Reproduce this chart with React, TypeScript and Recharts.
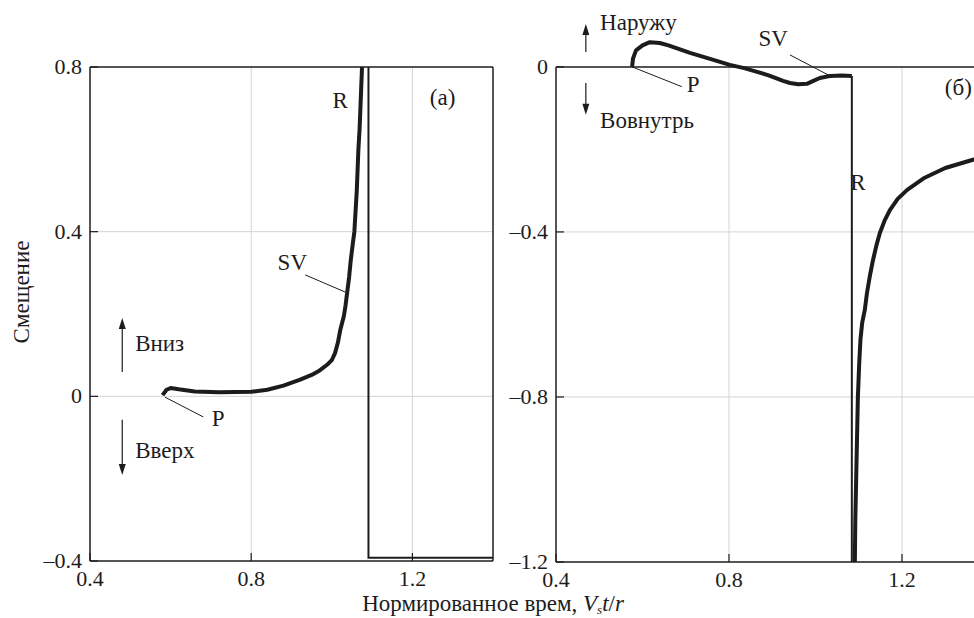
import React from 'react';
import {
  LineChart,
  Line,
  XAxis,
  YAxis,
  CartesianGrid,
  ReferenceLine,
  ReferenceDot
} from 'recharts';

// Левая панель (а): кривая SV / R и тонкая ступенька
const leftSvX = [0.58, 0.59, 0.6, 0.62, 0.66, 0.72, 0.8, 0.84, 0.88, 0.92, 0.95, 0.97, 0.99, 1.0, 1.008, 1.015, 1.021, 1.026, 1.03, 1.034, 1.038, 1.043, 1.047, 1.052, 1.056, 1.059, 1.062, 1.064, 1.066, 1.069, 1.071, 1.073, 1.075];
const leftSvY = [0.003, 0.016, 0.02, 0.017, 0.012, 0.01, 0.011, 0.016, 0.026, 0.04, 0.052, 0.063, 0.078, 0.088, 0.105, 0.13, 0.161, 0.18, 0.195, 0.22, 0.251, 0.29, 0.33, 0.37, 0.4, 0.45, 0.5, 0.55, 0.6, 0.65, 0.7, 0.75, 0.8];
const leftStepX = [1.091, 1.091, 1.4];
const leftStepY = [0.8, -0.392, -0.392];

// Правая панель (б)
const rightSvX = [0.576, 0.578, 0.585, 0.6, 0.617, 0.64, 0.66, 0.71, 0.76, 0.802, 0.835, 0.865, 0.89, 0.91, 0.925, 0.941, 0.96, 0.98, 0.995, 1.01, 1.033, 1.06, 1.084];
const rightSvY = [0, 0.02, 0.04, 0.052, 0.06, 0.058, 0.052, 0.034, 0.018, 0.005, -0.003, -0.012, -0.02, -0.028, -0.034, -0.039, -0.042, -0.041, -0.034, -0.027, -0.022, -0.021, -0.022];
const rightStepX = [1.084, 1.084];
const rightStepY = [-0.022, -1.2];
const rightRX = [1.091, 1.092, 1.094, 1.096, 1.098, 1.101, 1.104, 1.108, 1.114, 1.119, 1.126, 1.133, 1.141, 1.149, 1.16, 1.172, 1.19, 1.212, 1.25, 1.3, 1.364, 1.4];
const rightRY = [-1.2, -1.1, -1.0, -0.9, -0.8, -0.72, -0.66, -0.62, -0.589, -0.548, -0.505, -0.468, -0.432, -0.402, -0.372, -0.347, -0.32, -0.298, -0.27, -0.245, -0.225, -0.217];

const xTicks = [0.4, 0.8, 1.2];
const leftYTicks = [-0.4, 0, 0.4, 0.8];
const rightYTicks = [-1.2, -0.8, -0.4, 0];

const FONT = "'Liberation Serif', 'Times New Roman', serif";
const FS = 22;
const NS = 23;
const INK = '#1c1c1c';
const GRID = '#d4d4d4';

const toPoints = (xs: number[], ys: number[]) => xs.map((x, i) => ({ x, y: ys[i] }));
const fmt = (v: number) => (v < 0 ? '–' + Math.abs(v) : String(v));

const YTick = ({ x, y, payload }: any) => (
  <g>
    <line x1={x + 8} x2={x + 16} y1={y} y2={y} stroke={INK} strokeWidth={1.2} />
    <text x={x} y={y + 7} textAnchor="end" fontSize={FS} fontFamily={FONT} fill={INK}>
      {fmt(payload.value)}
    </text>
  </g>
);

const XTick = ({ x, y, payload }: any) => (
  <g>
    <line x1={x} x2={x} y1={y - 8} y2={y - 16} stroke={INK} strokeWidth={1.2} />
    <text x={x} y={y + 17} textAnchor="middle" fontSize={FS} fontFamily={FONT} fill={INK}>
      {fmt(payload.value)}
    </text>
  </g>
);

const note = (text: string, anchor: 'start' | 'middle' = 'middle') => (p: any) => (
  <text x={p.cx} y={p.cy + 8} textAnchor={anchor} fontSize={NS} fontFamily={FONT} fill={INK}>
    {text}
  </text>
);

const arrow = (p: any) => {
  const { x1, y1, x2, y2 } = p;
  const dir = y2 < y1 ? -1 : 1;
  return (
    <g>
      <line x1={x1} y1={y1} x2={x2} y2={y2 - dir * 8} stroke={INK} strokeWidth={1.2} />
      <polygon points={`${x2},${y2} ${x2 - 3.5},${y2 - dir * 11} ${x2 + 3.5},${y2 - dir * 11}`} fill={INK} />
    </g>
  );
};

const leader = { stroke: INK, strokeWidth: 1 };

export default function App() {
  return (
    <div style={{ position: 'absolute', left: 0, top: 0, width: 974, height: 618, overflow: 'hidden', background: '#fff' }}>
      <div style={{ position: 'absolute', left: 0, top: 0 }}>
        <LineChart width={500} height={618} margin={{ top: 67, right: 7, bottom: 27, left: 40 }}>
          <CartesianGrid stroke={GRID} horizontalValues={[0, 0.4]} verticalValues={[0.8, 1.2]} />
          <XAxis type="number" dataKey="x" domain={[0.4, 1.4]} ticks={xTicks} height={30}
            axisLine={{ stroke: INK, strokeWidth: 1.5 }} tickLine={false} tickSize={0} tickMargin={8} tick={<XTick />} />
          <YAxis type="number" dataKey="y" domain={[-0.4, 0.8]} ticks={leftYTicks} width={50}
            axisLine={{ stroke: INK, strokeWidth: 1.5 }} tickLine={false} tickSize={0} tickMargin={8} tick={<YTick />} />
          <ReferenceLine y={0.8} stroke={INK} strokeWidth={1.5} />
          <ReferenceLine x={1.4} stroke={INK} strokeWidth={1.5} />
          <Line data={toPoints(leftStepX, leftStepY)} dataKey="y" stroke={INK} strokeWidth={2} dot={false} isAnimationActive={false} />
          <Line data={toPoints(leftSvX, leftSvY)} dataKey="y" stroke={INK} strokeWidth={4} strokeLinejoin="round" dot={false} isAnimationActive={false} />
          <ReferenceLine segment={[{ x: 0.934, y: 0.295 }, { x: 1.034, y: 0.253 }]} {...leader} />
          <ReferenceLine segment={[{ x: 0.586, y: -0.002 }, { x: 0.681, y: -0.05 }]} {...leader} />
          <ReferenceLine segment={[{ x: 0.48, y: 0.059 }, { x: 0.48, y: 0.19 }]} shape={arrow} />
          <ReferenceLine segment={[{ x: 0.48, y: -0.057 }, { x: 0.48, y: -0.191 }]} shape={arrow} />
          <ReferenceDot x={1.021} y={0.72} r={0} shape={note('R')} />
          <ReferenceDot x={0.902} y={0.326} r={0} shape={note('SV')} />
          <ReferenceDot x={0.718} y={-0.053} r={0} shape={note('P')} />
          <ReferenceDot x={1.275} y={0.727} r={0} shape={note('(а)')} />
          <ReferenceDot x={0.512} y={0.13} r={0} shape={note('Вниз', 'start')} />
          <ReferenceDot x={0.512} y={-0.13} r={0} shape={note('Вверх', 'start')} />
        </LineChart>
      </div>
      <div style={{ position: 'absolute', left: 500, top: 0 }}>
        <LineChart width={500} height={618} margin={{ top: 5, right: 11.5, bottom: 26, left: 6 }}>
          <XAxis type="number" dataKey="x" domain={[0.4, 1.4]} ticks={xTicks} height={30}
            axisLine={{ stroke: INK, strokeWidth: 1.5 }} tickLine={false} tickSize={0} tickMargin={8} tick={<XTick />} />
          <YAxis type="number" dataKey="y" domain={[-1.2, 0.15]} ticks={rightYTicks} width={50}
            axisLine={false} tickLine={false} tickSize={0} tickMargin={8} tick={<YTick />} />
          <ReferenceLine segment={[{ x: 0.8, y: 0 }, { x: 0.8, y: -1.2 }]} stroke={GRID} />
          <ReferenceLine segment={[{ x: 1.2, y: 0 }, { x: 1.2, y: -1.2 }]} stroke={GRID} />
          <ReferenceLine y={-0.4} stroke={GRID} />
          <ReferenceLine y={-0.8} stroke={GRID} />
          <ReferenceLine y={0} stroke={INK} strokeWidth={1.5} />
          <ReferenceLine segment={[{ x: 0.4, y: 0 }, { x: 0.4, y: -1.2 }]} stroke={INK} strokeWidth={1.5} />
          <Line data={toPoints(rightStepX, rightStepY)} dataKey="y" stroke={INK} strokeWidth={2} dot={false} isAnimationActive={false} />
          <Line data={toPoints(rightSvX, rightSvY)} dataKey="y" stroke={INK} strokeWidth={4} strokeLinejoin="round" dot={false} isAnimationActive={false} />
          <Line data={toPoints(rightRX, rightRY)} dataKey="y" stroke={INK} strokeWidth={4} strokeLinejoin="round" dot={false} isAnimationActive={false} />
          <ReferenceLine segment={[{ x: 0.576, y: 0 }, { x: 0.691, y: -0.048 }]} {...leader} />
          <ReferenceLine segment={[{ x: 0.941, y: 0.029 }, { x: 1.034, y: -0.022 }]} {...leader} />
          <ReferenceLine segment={[{ x: 0.469, y: 0.036 }, { x: 0.469, y: 0.104 }]} shape={arrow} />
          <ReferenceLine segment={[{ x: 0.469, y: -0.039 }, { x: 0.469, y: -0.116 }]} shape={arrow} />
          <ReferenceDot x={0.502} y={0.109} r={0} shape={note('Наружу', 'start')} />
          <ReferenceDot x={0.502} y={-0.128} r={0} shape={note('Вовнутрь', 'start')} />
          <ReferenceDot x={0.717} y={-0.041} r={0} shape={note('P')} />
          <ReferenceDot x={0.902} y={0.07} r={0} shape={note('SV')} />
          <ReferenceDot x={1.098} y={-0.279} r={0} shape={note('R')} />
          <ReferenceDot x={1.299} y={-0.048} r={0} shape={note('(б)', 'start')} />
        </LineChart>
      </div>
      <div style={{ position: 'absolute', left: 22, top: 292, transform: 'translate(-50%, -50%) rotate(-90deg)', fontFamily: FONT, fontSize: NS, color: INK, whiteSpace: 'nowrap' }}>
        Смещение
      </div>
      <div style={{ position: 'absolute', left: 493, top: 603, lineHeight: 1, transform: 'translate(-50%, -50%)', fontFamily: FONT, fontSize: NS, color: INK, whiteSpace: 'nowrap' }}>
        Нормированное врем, <i>V</i><span style={{ fontSize: 13, position: 'relative', top: 3 }}><i>s</i></span><i>t</i>/<i>r</i>
      </div>
    </div>
  );
}
